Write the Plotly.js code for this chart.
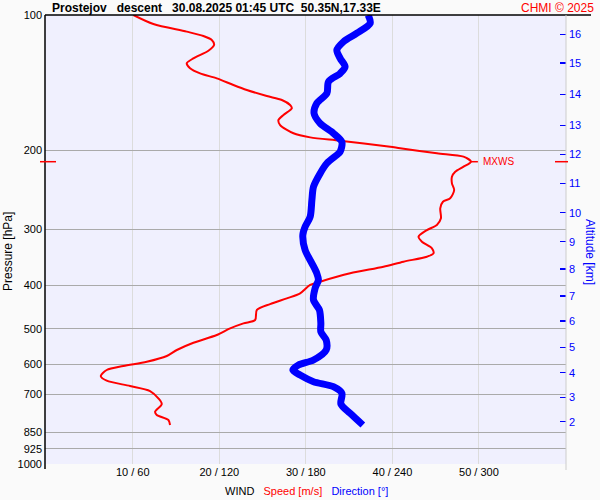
<!DOCTYPE html>
<html><head><meta charset="utf-8">
<script src="https://cdn.plot.ly/plotly-3.0.1.min.js"></script>
<style>body{margin:0;background:#fafafa}</style>
</head><body><div id="chart" style="width:600px;height:500px"></div>
<script>
// Wind speed profile (m/s) vs pressure (hPa)
const speedPressure = [100,104.7,108.9,111.4,113.7,116.6,120.1,124.9,128.1,131.4,134.9,138.4,143.2,146.9,151.5,154.6,158.6,161.3,167.0,171.4,175.8,183.4,187.3,190.5,196.5,198.1,203.2,206.8,212.2,217.7,223.4,229.2,237.1,245.4,256.0,260.5,269.5,283.7,293.6,301.3,311.8,319.8,330.8,339.4,345.4,354.3,363.6,376.1,392.6,399.3,416.9,427.6,440.4,453.9,477.9,486.1,498.7,516.1,536.9,557.3,574.7,591.8,604.9,617.5,636.8,652.4,670.3,687.8,714.2,735.3,764.7,777.9,798.0,818.8];
const speed = [10.07,12.38,16.24,18.16,19.13,19.40,18.74,17.01,16.24,16.62,17.78,19.71,21.63,23.18,25.49,27.23,28.18,28.38,27.41,26.83,27.03,28.57,30.50,33.97,39.75,40.90,45.14,48.22,49.08,48.22,47.26,46.88,46.88,47.14,46.68,45.84,45.53,45.61,45.14,43.99,43.02,43.41,44.57,44.75,43.99,41.28,38.97,35.12,31.65,30.50,29.34,27.80,25.87,24.34,24.14,22.79,21.25,19.71,17.01,15.09,13.93,11.62,8.91,6.99,6.30,6.99,9.69,12.00,12.96,13.35,12.58,12.77,14.12,14.31];
// Wind direction profile (deg) vs pressure (hPa)
const dirPressure = [100,104.3,109.8,114.7,119.7,124.9,130.4,134.9,140.8,149.4,157.3,165.6,174.3,183.4,191.8,201.6,205.0,213.9,225.3,241.2,258.2,281.4,296.2,309.0,333.7,357.3,376.1,389.3,406.2,431.4,453.9,486.1,507.4,529.6,557.3,586.7,601.9,617.5,633.9,655.7,672.7,696.1,735.3,771.2,818.8];
const direction = [223.2,224.6,215.4,206.1,201.5,203.8,207.2,203.8,195.7,194.6,187.6,185.7,189.9,199.1,205.0,203.8,201.5,194.6,189.9,185.3,184.2,183.0,179.5,177.9,179.5,184.2,187.6,188.7,186.4,185.3,189.4,190.4,190.4,194.1,194.1,185.3,174.9,171.0,176.0,185.3,199.1,205.0,204.3,210.7,219.5];
const pressureTicks = [100,200,300,400,500,600,700,850,925,1000];
const speedTicks = [10,20,30,40,50];
const speedTickLabels = ['10 / 60','20 / 120','30 / 180','40 / 240','50 / 300'];
const altitudeKm = [2,3,4,5,6,7,8,9,10,11,12,13,14,15,16];
const altitudePressure = [805.2,710.4,626.1,549.7,480.3,422.6,367.9,319.8,275.6,237.1,204.3,176.1,150.2,127.9,110.4];

const L=45, R=566, T=15, B=464;
const px = v => (v - L)/(R - L);
const py = v => 1 - (v - T)/(B - T);
const pPaper = p => 3 - Math.log10(p);

let iMax = 0;
speed.forEach((s,i)=>{ if(s>speed[iMax]) iMax=i; });
const pMax = speedPressure[iMax];

const traces = [
  {x: direction, y: dirPressure, xaxis:'x2', yaxis:'y', mode:'lines',
   line:{color:'#0000ff', width:7, shape:'spline', smoothing:0.8}, hoverinfo:'skip'},
  {x: speed, y: speedPressure, xaxis:'x', yaxis:'y', mode:'lines',
   line:{color:'#ff0000', width:2, shape:'spline', smoothing:0.8}, hoverinfo:'skip'},
  {x: speed, y: speedPressure, xaxis:'x', yaxis:'y2', mode:'none', hoverinfo:'skip'}
];

const fnt = 'Liberation Sans, Arial, sans-serif';
const layout = {
  width:600, height:500, showlegend:false,
  paper_bgcolor:'#fafafa', plot_bgcolor:'#f0f0fe',
  margin:{l:L, r:600-R, t:T, b:500-B},
  font:{family:fnt, size:11, color:'#000'},
  xaxis:{range:[-0.14,60.06], tickvals:speedTicks, ticktext:speedTickLabels, showgrid:true,
         gridcolor:'#dcdcdc', zeroline:false, showline:false, ticks:'', tickfont:{size:11}},
  xaxis2:{range:[-0.84,360.36], overlaying:'x', visible:false},
  yaxis:{type:'log', range:[3,2], tickvals:pressureTicks, ticktext:pressureTicks.map(String),
         showgrid:true, gridcolor:'#aaaaaa', zeroline:false, showline:false, ticks:'', tickfont:{size:11},
         ticklabelstandoff:2},
  yaxis2:{type:'log', range:[3,2], overlaying:'y', side:'right', tickvals:altitudePressure,
          ticktext:altitudeKm.map(String), ticks:'inside', ticklen:6, tickwidth:1.3, tickcolor:'#0000ff',
          ticklabelstandoff:2,
          showgrid:false, zeroline:false, showline:false, tickfont:{size:11, color:'#0000ff'}},
  shapes:[
    {type:'line', xref:'paper', yref:'paper', x0:0, x1:px(591), y0:1, y1:1, line:{color:'#000', width:1.5}},
    {type:'line', xref:'paper', yref:'paper', x0:0, x1:0, y0:py(469), y1:1, line:{color:'#000', width:1.5}},
    {type:'line', xref:'paper', yref:'paper', x0:1, x1:1, y0:py(470), y1:1, line:{color:'#cccccc', width:1}},
    {type:'line', xref:'paper', yref:'paper', x0:px(40), x1:px(56), y0:pPaper(pMax), y1:pPaper(pMax), line:{color:'#ff0000', width:1.5}},
    {type:'line', xref:'paper', yref:'paper', x0:px(555), x1:px(568), y0:pPaper(pMax), y1:pPaper(pMax), line:{color:'#ff0000', width:1.5}},
    {type:'line', xref:'x', yref:'paper', x0:speed[iMax], x1:speed[iMax]+0.8, y0:pPaper(pMax), y1:pPaper(pMax), line:{color:'#ff0000', width:1.5}}
  ],
  annotations:[
    {xref:'paper', yref:'paper', x:px(50), y:py(7.5), xanchor:'left', yanchor:'middle', showarrow:false,
     text:'<b>Prostejov&nbsp;&nbsp;&nbsp;descent&nbsp;&nbsp;&nbsp;30.08.2025 01:45 UTC&nbsp;&nbsp;50.35N,17.33E</b>', font:{size:12, color:'#000'}},
    {xref:'paper', yref:'paper', x:px(596), y:py(7.5), xanchor:'right', yanchor:'middle', showarrow:false,
     text:'CHMI © 2025', font:{size:12, color:'#ff0000'}},
    {xref:'paper', yref:'paper', x:px(481), y:pPaper(pMax), xanchor:'left', yanchor:'middle', showarrow:false,
     text:'MXWS', font:{size:10, color:'#ff0000'}},
    {xref:'paper', yref:'paper', x:px(306.5), y:py(491), xanchor:'center', yanchor:'middle', showarrow:false,
     text:'WIND&nbsp;&nbsp;&nbsp;<span style="color:#ff0000">Speed [m/s]</span>&nbsp;&nbsp;&nbsp;<span style="color:#0000ff">Direction [°]</span>', font:{size:11, color:'#000'}},
    {xref:'paper', yref:'paper', x:px(8), y:py(252), xanchor:'center', yanchor:'middle', showarrow:false, textangle:-90,
     text:'Pressure [hPa]', font:{size:12, color:'#000'}},
    {xref:'paper', yref:'paper', x:px(590), y:py(252), xanchor:'center', yanchor:'middle', showarrow:false, textangle:90,
     text:'Altitude [km]', font:{size:12, color:'#0000ff'}}
  ]
};
Plotly.newPlot('chart', traces, layout, {staticPlot:true});
</script></body></html>
